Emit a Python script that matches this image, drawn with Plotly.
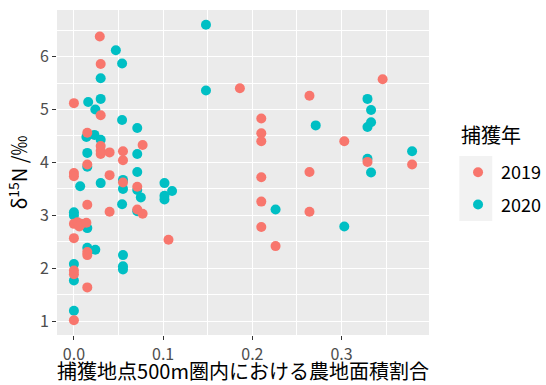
import plotly.graph_objects as go

# Data
x_2019 = [0.029, 0.030, 0.000, 0.030, 0.015, 0.077, 0.030, 0.030, 0.030, 0.040,
          0.055, 0.055, 0.015, 0.000, 0.000, 0.040, 0.055, 0.071, 0.015, 0.071,
          0.040, 0.077, 0.000, 0.004, 0.008, 0.006, 0.014, 0.000, 0.106, 0.015,
          0.015, 0.000, 0.000, 0.015, 0.000, 0.186, 0.264, 0.346, 0.210, 0.210,
          0.210, 0.303, 0.329, 0.264, 0.210, 0.210, 0.264, 0.210, 0.226, 0.379]
y_2019 = [6.38, 5.86, 5.12, 4.89, 4.56, 4.33, 4.31, 4.22, 4.16, 4.19,
          4.21, 4.04, 3.96, 3.80, 3.74, 3.76, 3.62, 3.54, 3.20, 3.11,
          3.07, 3.03, 2.84, 2.87, 2.84, 2.79, 2.86, 2.57, 2.54, 2.31,
          2.25, 1.96, 1.89, 1.64, 1.02, 5.40, 5.26, 5.57, 4.83, 4.55,
          4.40, 4.40, 4.01, 3.82, 3.72, 3.26, 3.07, 2.78, 2.42, 3.96]

x_2020 = [0.148, 0.047, 0.054, 0.030, 0.030, 0.016, 0.024, 0.054, 0.071, 0.014,
          0.023, 0.030, 0.015, 0.071, 0.015, 0.071, 0.030, 0.055, 0.055, 0.071,
          0.075, 0.007, 0.1015, 0.1015, 0.1015, 0.110, 0.054, 0.071, 0.000, 0.000,
          0.015, 0.015, 0.024, 0.055, 0.055, 0.055, 0.000, 0.000, 0.000, 0.148,
          0.329, 0.333, 0.333, 0.329, 0.271, 0.329, 0.333, 0.226, 0.303, 0.379]
y_2020 = [6.60, 6.12, 5.87, 5.59, 5.20, 5.14, 5.00, 4.80, 4.65, 4.48,
          4.52, 4.43, 4.18, 4.16, 3.92, 3.82, 3.61, 3.67, 3.50, 3.48,
          3.34, 3.55, 3.61, 3.37, 3.30, 3.46, 3.21, 3.08, 3.06, 3.00,
          2.76, 2.39, 2.35, 2.25, 2.04, 1.98, 2.08, 1.77, 1.20, 5.36,
          5.20, 4.99, 4.76, 4.67, 4.70, 4.07, 3.81, 3.11, 2.79, 4.21]

x_ticks = [0.0, 0.1, 0.2, 0.3]
x_tick_labels = ["0.0", "0.1", "0.2", "0.3"]
y_ticks = [1, 2, 3, 4, 5, 6]
y_tick_labels = ["1", "2", "3", "4", "5", "6"]

x_title = "捕獲地点500m圏内における農地面積割合"
y_title = "δ<sup>15</sup>N /‰"
legend_title = "捕獲年"

FONT = "Noto Sans CJK JP"
RED = "#F8766D"
CYAN = "#00BFC4"

fig = go.Figure()
fig.add_trace(go.Scatter(x=x_2020, y=y_2020, mode="markers", name="2020",
                         legendgroup="b", legendrank=2,
                         marker=dict(color=CYAN, size=10, line=dict(width=0))))
fig.add_trace(go.Scatter(x=x_2019, y=y_2019, mode="markers", name="2019",
                         legendgroup="a", legendrank=1,
                         marker=dict(color=RED, size=10, line=dict(width=0))))

allx = x_2019 + x_2020
ally = y_2019 + y_2020
xmin, xmax = min(allx), max(allx)
ymin, ymax = min(ally), max(ally)
xpad = (xmax - xmin) * 0.05
ypad = (ymax - ymin) * 0.05

axis_common = dict(
    showgrid=True, gridcolor="white", gridwidth=1.3,
    zeroline=False, showline=False, automargin=False,
    ticks="outside", ticklen=4, tickwidth=1.1, tickcolor="#333333",
    tickfont=dict(family=FONT, size=16, color="#4D4D4D"),
    minor=dict(showgrid=True, gridcolor="white", gridwidth=0.6, ticks=""),
)

fig.update_xaxes(range=[xmin - xpad, xmax + xpad], tickvals=x_ticks,
                 ticktext=x_tick_labels, ticklabelstandoff=1,
                 title=dict(text=x_title, font=dict(family=FONT, size=20, color="black"),
                            standoff=3),
                 **axis_common)
fig.update_xaxes(minor_dtick=0.05, minor_tick0=0.05)
fig.update_yaxes(range=[ymin - ypad, ymax + ypad], tickvals=y_ticks,
                 ticktext=y_tick_labels,
                 title=dict(text=y_title, font=dict(family=FONT, size=20, color="black"),
                            standoff=6),
                 **axis_common)
fig.update_yaxes(minor_dtick=0.5, minor_tick0=0.5)

fig.update_layout(
    width=546, height=385,
    margin=dict(l=57, r=117, t=10, b=50, autoexpand=False),
    plot_bgcolor="#EBEBEB", paper_bgcolor="white",
    font=dict(family=FONT, color="black"),
    legend=dict(
        font=dict(family=FONT, size=18, color="black"),
        x=1.07, xanchor="left", y=0.557, yanchor="top",
        traceorder="grouped", tracegroupgap=6,
        bgcolor="rgba(0,0,0,0)",
        itemwidth=36,
    ),
    annotations=[dict(text=legend_title, xref="paper", yref="paper",
                      x=1.0816, y=0.565, xanchor="left", yanchor="bottom",
                      showarrow=False, font=dict(family=FONT, size=20, color="black"))],
    shapes=[dict(type="rect", xref="paper", yref="paper",
                 x0=1.0816, x1=1.170, y0=0.351, y1=0.551,
                 fillcolor="#F2F2F2", line=dict(width=0), layer="below")],
)

fig.write_html("out.html", config={"displayModeBar": False},
               post_script="document.body.style.margin='0';document.body.style.padding='0';")
